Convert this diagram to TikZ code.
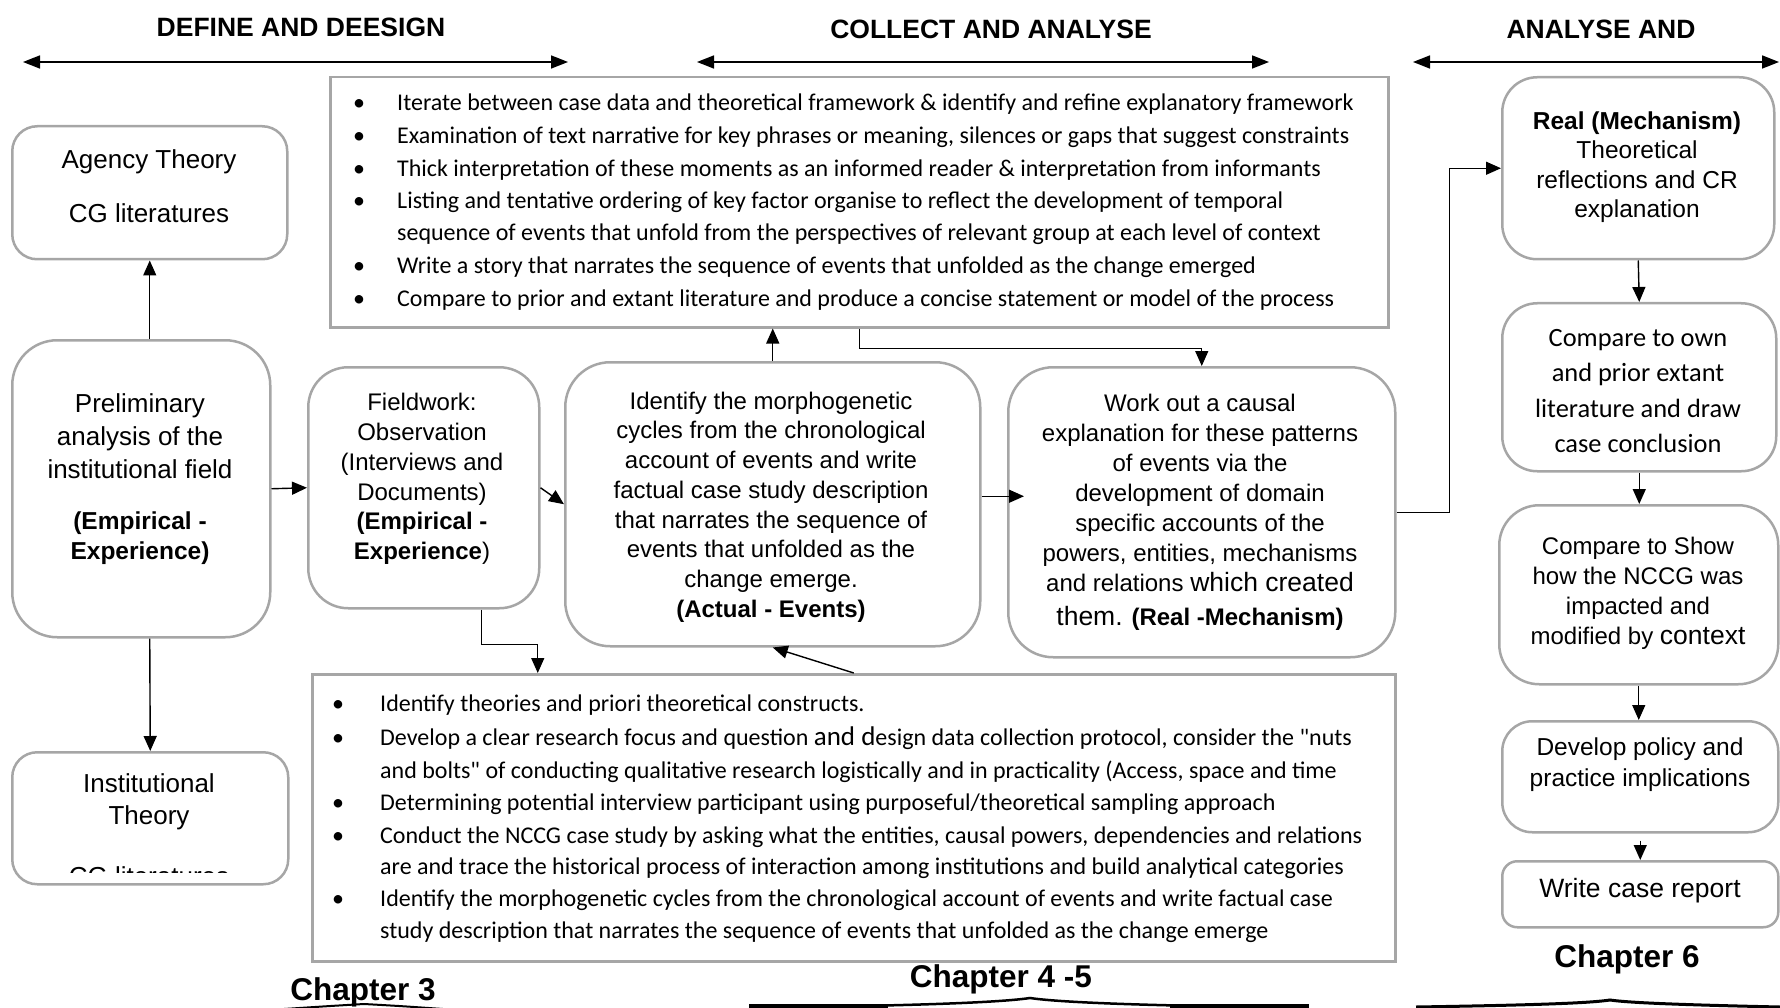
\documentclass[tikz,border=0pt]{standalone}
\usepackage{fontspec}
\setmainfont{Liberation Sans}
\newfontfamily\calib{Carlito}
\usetikzlibrary{arrows.meta}
\definecolor{boxgray}{RGB}{166,166,166}
\newcommand{\fs}[2]{\fontsize{#1}{#2}\selectfont}
\begin{document}
\begin{tikzpicture}[x=1pt,y=-1pt,
  box/.style={draw=boxgray, line width=2.5pt, fill=white, anchor=north west, inner sep=0pt},
  arr/.style={-{Triangle[length=15pt,width=13pt]}, line width=1.4pt},
  dbl/.style={{Triangle[length=17pt,width=13pt]}-{Triangle[length=17pt,width=13pt]}, line width=1.7pt},
  hdr/.style={font=\bfseries\fs{26.5}{30}, inner sep=0pt},
  chap/.style={font=\bfseries\fs{31.5}{34}, inner sep=0pt},
  txt/.style={align=center, inner sep=0pt},
  bl/.style={font=\calib\fs{24}{30}, anchor=base west, inner sep=0pt},
  bul/.style={font=\calib\fs{24}{30}, anchor=base, inner sep=0pt}
]
\useasboundingbox (0,0) rectangle (1780,1008);

% ---------- phase headings ----------
\node[hdr] (h1) at (301,27) {DEFINE AND DEESIGN};
\node[hdr] (h2) at (991,29) {COLLECT AND ANALYSE};
\node[hdr] (h3) at (1601,29) {ANALYSE AND};
\coordinate (a1l) at (23,62);   \coordinate (a1r) at (568,62);
\coordinate (a2l) at (697,62);  \coordinate (a2r) at (1269,62);
\coordinate (a3l) at (1413,62); \coordinate (a3r) at (1779,62);
\draw[dbl] (a1l) -- (a1r);
\draw[dbl] (a2l) -- (a2r);
\draw[dbl] (a3l) -- (a3r);

% ---------- left column ----------
\node[box, rounded corners=25pt, minimum width=275pt, minimum height=133pt] (agency) at (11,125) {};
\node[txt, font=\fs{26}{54}] (agencyT) at (149,186) {Agency Theory\\CG literatures};

\node[box, rounded corners=45pt, minimum width=258pt, minimum height=297pt] (prelim) at (11,339) {};
\node[txt, font=\fs{26}{33}] (prelimA) at (140,436) {Preliminary\\analysis of the\\institutional field};
\node[txt, font=\bfseries\fs{24.5}{30}] (prelimB) at (140,538) {(Empirical -\\Experience)};

\node[box, rounded corners=25pt, minimum width=276pt, minimum height=132pt] (inst) at (11,751) {};
\node[txt, font=\fs{26}{32}] (instT) at (149,802) {Institutional\\Theory};
\begin{scope}
  \clip (12,752) rectangle (286,872);
  \node[font=\fs{26}{32}, anchor=base, inner sep=0pt] (instC) at (149,885) {CG literatures};
\end{scope}

\draw[arr] (agency.south |- prelim.north) -- (agency.south);
\draw[arr] (agency.south |- prelim.south) -- (inst.north);

% ---------- fieldwork ----------
\node[box, rounded corners=40pt, minimum width=231pt, minimum height=241pt] (field) at (307,366) {};
\node[txt, font=\fs{24}{29.8}] (fieldT) at (422,479)
  {Fieldwork:\\Observation\\(Interviews and\\Documents)\\\textbf{(Empirical -}\\\textbf{Experience})};
\draw[arr] (prelim.east) -- (field.west);

% ---------- morphogenetic cycles ----------
\node[box, rounded corners=45pt, minimum width=415pt, minimum height=284pt] (morpho) at (564,361) {};
\node[txt, font=\fs{24}{29.7}] (morphoT) at (771,507)
  {Identify the morphogenetic\\cycles from the chronological\\account of events and write\\factual case study description\\that narrates the sequence of\\events that unfolded as the\\change emerge.\\\textbf{(Actual - Events)}};

% ---------- causal explanation ----------
\node[box, rounded corners=45pt, minimum width=387pt, minimum height=290pt] (workout) at (1007,366) {};
\node[txt, font=\fs{24}{30}] (workoutT) at (1200,512)
  {Work out a causal\\explanation for these patterns\\of events via the\\development of domain\\specific accounts of the\\powers, entities, mechanisms\\and relations {\fs{26.5}{30}which created}\\[4pt]{\fs{26.5}{30}them.} \textbf{(Real -Mechanism)}};

% ---------- upper bullet box ----------
\node[box, minimum width=1058pt, minimum height=250pt] (top) at (329,76) {};
\node[bul] (tb1) at (359,111) {\textbullet};
\node[bl] (tl1) at (397,111) {Iterate between case data and theoretical framework \& identify and refine explanatory framework};
\node[bul] (tb2) at (359,144) {\textbullet};
\node[bl] (tl2) at (397,144) {Examination of text narrative for key phrases or meaning, silences or gaps that suggest constraints};
\node[bul] (tb3) at (359,177) {\textbullet};
\node[bl] (tl3) at (397,177) {Thick interpretation of these moments as an informed reader \& interpretation from informants};
\node[bul] (tb4) at (359,209) {\textbullet};
\node[bl] (tl4) at (397,209) {Listing and tentative ordering of key factor organise to reflect the development of temporal};
\node[bl] (tl5) at (397,241) {sequence of events that unfold from the perspectives of relevant group at each level of context};
\node[bul] (tb6) at (359,274) {\textbullet};
\node[bl] (tl6) at (397,274) {Write a story that narrates the sequence of events that unfolded as the change emerged};
\node[bul] (tb7) at (359,306) {\textbullet};
\node[bl] (tl7) at (397,306) {Compare to prior and extant literature and produce a concise statement or model of the process};

% ---------- lower bullet box ----------
\node[box, minimum width=1083pt, minimum height=287pt] (bottom) at (311,673) {};
\node[bul] (bb1) at (338,711) {\textbullet};
\node[bl] (bl1) at (380,711) {Identify theories and priori theoretical constructs.};
\node[bul] (bb2) at (338,745) {\textbullet};
\node[bl] (bl2) at (380,745) {Develop a clear research focus and question {\fs{27}{30}and d}esign data collection protocol, consider the "nuts};
\node[bl] (bl3) at (380,778) {and bolts" of conducting qualitative research logistically and in practicality (Access, space and time};
\node[bul] (bb4) at (338,810) {\textbullet};
\node[bl] (bl4) at (380,810) {Determining potential interview participant using purposeful/theoretical sampling approach};
\node[bul] (bb5) at (338,843) {\textbullet};
\node[bl] (bl5) at (380,843) {Conduct the NCCG case study by asking what the entities, causal powers, dependencies and relations};
\node[bl] (bl6) at (380,874) {are and trace the historical process of interaction among institutions and build analytical categories};
\node[bul] (bb7) at (338,906) {\textbullet};
\node[bl] (bl7) at (380,906) {Identify the morphogenetic cycles from the chronological account of events and write factual case};
\node[bl] (bl8) at (380,938) {study description that narrates the sequence of events that unfolded as the change emerge};

% ---------- right column ----------
\node[box, rounded corners=35pt, minimum width=272pt, minimum height=182pt] (real) at (1501,76) {};
\node[txt, font=\fs{24.5}{29.5}] (realT) at (1637,167) {\textbf{Real (Mechanism)}\\Theoretical\\reflections and CR\\explanation};

\node[box, rounded corners=35pt, minimum width=274pt, minimum height=168pt] (cmpown) at (1501,302) {};
\node[txt, font=\calib\fs{26.4}{35.3}] (cmpownT) at (1638,391) {Compare to own\\and prior extant\\literature and draw\\case conclusion};

\node[box, rounded corners=40pt, minimum width=279pt, minimum height=179pt] (cmpshow) at (1498,504) {};
\node[txt, font=\fs{24}{30}] (cmpshowT) at (1638,593) {Compare to Show\\how the NCCG was\\impacted and\\modified by {\fs{26.5}{30}context}};

\node[box, rounded corners=30pt, minimum width=276pt, minimum height=111pt] (develop) at (1501,720) {};
\node[txt, font=\fs{24.5}{31}] (developT) at (1640,765) {Develop policy and\\practice implications};

\node[box, rounded corners=15pt, minimum width=276pt, minimum height=66pt] (write) at (1501,860) {};
\node[txt, font=\fs{26.5}{30}] (writeT) at (1640,891) {Write case report};

\draw[arr] (real.south) -- (cmpown.north);
\draw[arr] (cmpown.south) -- (cmpown.south |- cmpshow.north);
\draw[arr] (cmpshow.south) -- (cmpshow.south |- develop.north);
\draw[arr, shorten <=7pt] (develop.south) -- (develop.south |- write.north);

% ---------- connectors between stages ----------
\draw[arr] (field.east) -- (morpho.west);
\draw[arr] (morpho.north) -- (morpho.north |- top.south);
\draw[arr] (top.south) -- ++(0,20) -| (workout.north);
\draw[arr] ([yshift=8pt]morpho.east) -- ([xshift=17pt,yshift=16pt]workout.west);
\draw[arr] (workout.east) -- ++(53,0) |- (real.west);
\draw[arr] ([xshift=58pt]field.south) -- ++(0,35) -| ([xshift=-316pt]bottom.north);
\draw[arr] (bottom.north) -- (morpho.south);

% ---------- chapter labels and braces ----------
\node[chap] (ch3) at (363,992) {Chapter 3};
\node[chap] (ch45) at (1001,979) {Chapter 4 -5};
\node[chap] (ch6) at (1627,959) {Chapter 6};

\draw[line width=2pt] (284,1009) .. controls (330,1006) .. (364,1004) .. controls (400,1006) .. (443,1009);

\draw[line width=5pt] (749,1006) -- (888,1006);
\draw[line width=5pt] (1170,1006) -- (1309,1006);
\draw[line width=2.5pt] (860,1006) .. controls (960,1004) and (1010,1001) .. (1030,998)
  .. controls (1050,1001) and (1100,1004) .. (1200,1006);

\draw[line width=3pt] (1416,1007) .. controls (1540,1005) and (1590,1003) .. (1610,1000)
  .. controls (1630,1003) and (1690,1005) .. (1780,1007);
\end{tikzpicture}
\end{document}
